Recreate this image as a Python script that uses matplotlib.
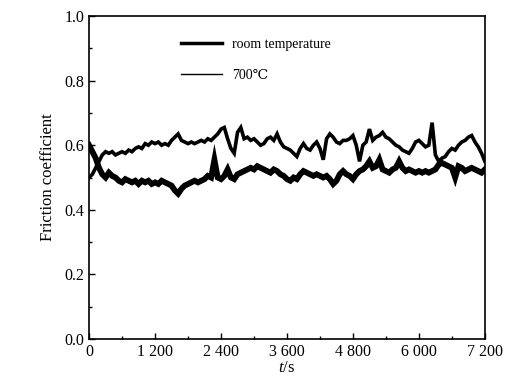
import numpy as np
import matplotlib
matplotlib.use('Agg')
import matplotlib.pyplot as plt
from matplotlib.lines import Line2D
from matplotlib.ticker import MultipleLocator, FuncFormatter

# friction coefficient, one sample per 60 s
mu_room = [0.60, 0.58, 0.56, 0.53, 0.51, 0.50, 0.515, 0.505, 0.50, 0.49,
           0.485, 0.495, 0.49, 0.485, 0.49, 0.48, 0.49, 0.485, 0.49, 0.48,
           0.485, 0.48, 0.49, 0.485, 0.48, 0.475, 0.46, 0.45, 0.465, 0.475,
           0.48, 0.485, 0.49, 0.485, 0.49, 0.495, 0.505, 0.50, 0.555, 0.50,
           0.495, 0.505, 0.525, 0.50, 0.495, 0.51, 0.515, 0.52, 0.525, 0.53,
           0.525, 0.535, 0.53, 0.525, 0.52, 0.515, 0.525, 0.52, 0.51, 0.505,
           0.495, 0.49, 0.50, 0.495, 0.51, 0.52, 0.515, 0.51, 0.505, 0.51,
           0.505, 0.50, 0.505, 0.495, 0.48, 0.49, 0.51, 0.52, 0.51, 0.505,
           0.495, 0.51, 0.52, 0.525, 0.535, 0.55, 0.53, 0.535, 0.555, 0.525,
           0.52, 0.515, 0.525, 0.53, 0.55, 0.53, 0.52, 0.525, 0.52, 0.515,
           0.52, 0.515, 0.52, 0.515, 0.52, 0.525, 0.54, 0.545, 0.54, 0.535,
           0.53, 0.50, 0.535, 0.53, 0.52, 0.525, 0.53, 0.525, 0.52, 0.515,
           0.525]
mu_700 = [0.50, 0.51, 0.53, 0.55, 0.57, 0.58, 0.575, 0.58, 0.57, 0.575,
          0.58, 0.575, 0.585, 0.58, 0.59, 0.595, 0.59, 0.605, 0.60, 0.61,
          0.605, 0.61, 0.60, 0.605, 0.60, 0.615, 0.625, 0.635, 0.615, 0.61,
          0.605, 0.61, 0.605, 0.61, 0.615, 0.61, 0.62, 0.615, 0.625, 0.635,
          0.65, 0.655, 0.62, 0.59, 0.575, 0.64, 0.655, 0.62, 0.625, 0.615,
          0.62, 0.61, 0.60, 0.605, 0.62, 0.625, 0.615, 0.635, 0.61, 0.595,
          0.59, 0.585, 0.575, 0.565, 0.59, 0.605, 0.59, 0.585, 0.60, 0.61,
          0.59, 0.555, 0.62, 0.635, 0.625, 0.61, 0.605, 0.615, 0.615, 0.62,
          0.63, 0.60, 0.55, 0.60, 0.61, 0.65, 0.615, 0.625, 0.63, 0.64,
          0.625, 0.62, 0.61, 0.60, 0.595, 0.585, 0.58, 0.575, 0.59, 0.61,
          0.615, 0.605, 0.595, 0.60, 0.67, 0.57, 0.55, 0.56, 0.565, 0.58,
          0.59, 0.585, 0.60, 0.61, 0.615, 0.625, 0.63, 0.61, 0.595, 0.575,
          0.55]
t_room = np.linspace(0, 7200, len(mu_room))
t_700 = np.linspace(0, 7200, len(mu_700))

plt.rcParams['font.family'] = ['Liberation Serif', 'DejaVu Serif']
plt.rcParams['mathtext.fontset'] = 'custom'
plt.rcParams['mathtext.it'] = 'Liberation Serif:italic'
plt.rcParams['mathtext.rm'] = 'Liberation Serif'

fig = plt.figure(figsize=(5.12, 3.83), dpi=100)
ax = fig.add_axes([0.174, 0.115, 0.773, 0.843])

# the measured traces are noisy bands, so draw them wide
ax.plot(t_room, mu_room, color='black', lw=4.2, solid_joinstyle='miter')
ax.plot(t_700, mu_700, color='black', lw=2.6, solid_joinstyle='miter')

ax.set_xlim(0, 7200)
ax.set_ylim(0, 1.0)
ax.xaxis.set_major_locator(MultipleLocator(1200))
ax.xaxis.set_minor_locator(MultipleLocator(600))
ax.yaxis.set_major_locator(MultipleLocator(0.2))
ax.yaxis.set_minor_locator(MultipleLocator(0.1))
ax.xaxis.set_major_formatter(FuncFormatter(lambda v, p: f'{int(v):,}'.replace(',', ' ')))
ax.yaxis.set_major_formatter(FuncFormatter(lambda v, p: f'{v:.1f}'))
ax.tick_params(which='both', direction='in', top=False, right=False, labelsize=11.5)
ax.tick_params(which='major', length=4, width=1)
ax.tick_params(which='minor', length=2.5, width=1)
for s in ax.spines.values():
    s.set_linewidth(1.2)

ax.set_xlabel('$t$/s', fontsize=12, labelpad=0)
ax.set_ylabel('Friction coefficient', fontsize=12, labelpad=6)

handles = [Line2D([], [], color='black', lw=2.5), Line2D([], [], color='black', lw=1.0)]
ax.legend(handles, ['room temperature', '700\u2103'], loc='upper left',
          bbox_to_anchor=(0.2, 0.97), frameon=False, fontsize=10,
          handlelength=3.0, labelspacing=1.3, handletextpad=0.7)

fig.savefig('out.png', dpi=100)
